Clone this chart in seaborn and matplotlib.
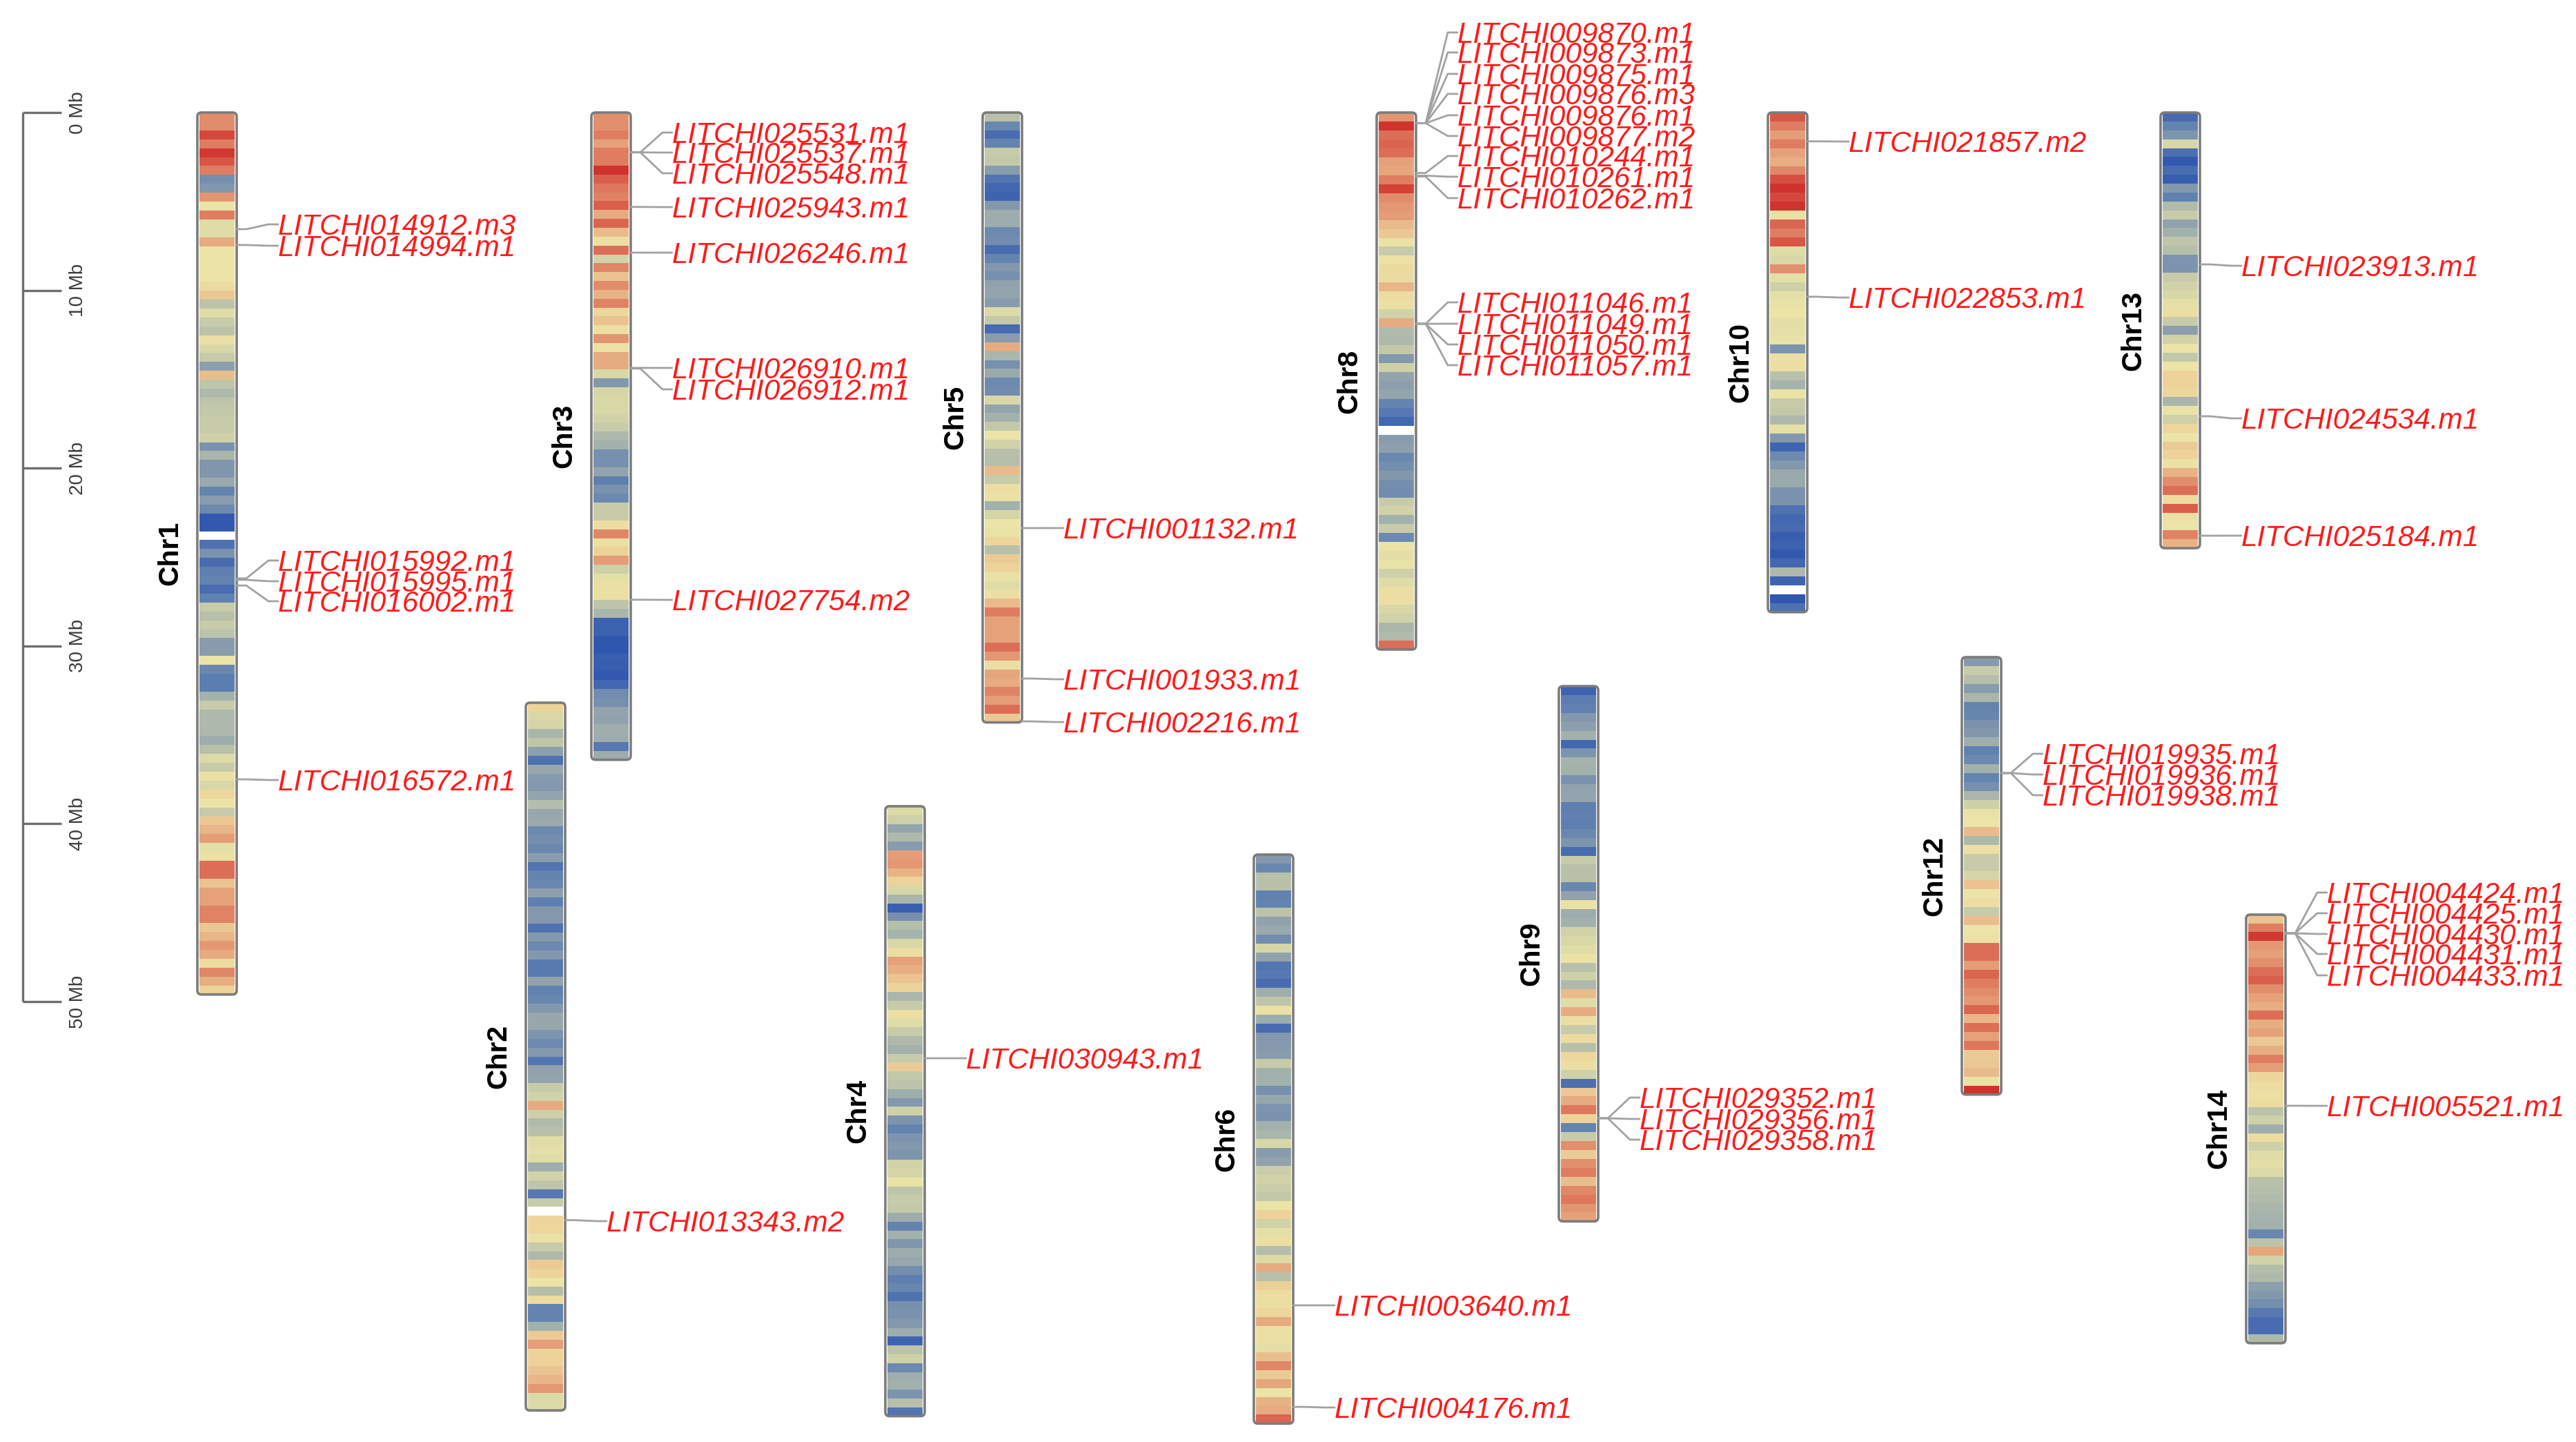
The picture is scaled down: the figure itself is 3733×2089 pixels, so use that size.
import numpy as np
import pandas as pd
import matplotlib
matplotlib.use("Agg")
import matplotlib.pyplot as plt
from matplotlib.colors import LinearSegmentedColormap
from matplotlib.patches import FancyBboxPatch
import seaborn as sns

nan = np.nan

# gene density per 0.5 Mb bin, 0 = sparse (blue), 10 = dense (red), nan = gap
chr1_density = [8.7, 8.7, 9.7, 9, 9.9, 9.5, 9, 2.5, 3, 8.5, 6, 9, 5.7, 5.7, 8, 6, 6, 6, 6, 6.6, 7.3, 4.7, 5.7, 5, 4.7,
                6.3, 5.5, 5, 3.3, 7.5, 4.8, 4.3, 4.8, 4.9, 5, 5, 5.2, 2.7, 4.2, 2.9, 2.9, 3.7, 2, 3.2, 2.3, 0.3, 0.3,
                nan, 1.2, 2.7, 1, 1.8, 2, 1, 1.9, 5, 4.6, 5, 4.7, 3.2, 3.2, 6, 2.2, 1.7, 1.7, 4, 5, 4.3, 4.3, 4.3, 3.8,
                4.6, 5.6, 5, 6.3, 5.5, 6.8, 6, 5, 7.3, 7.7, 8.3, 5.8, 6.2, 9.2, 9.2, 7.4, 8.2, 8.2, 8.9, 8.9, 7.3, 7.7,
                8.4, 8, 6.5, 8.8, 7.9, 7]
chr2_density = [7, 5.5, 5.4, 4.2, 4.8, 3.3, 1.2, 3.6, 3.1, 3, 3.5, 4.5, 3.6, 3.7, 2.3, 2.5, 2.2, 3.2, 1.3, 2, 2.2, 3.3,
                1.8, 3, 3, 1.2, 3, 2.3, 3, 1.6, 1.6, 3.4, 1.9, 2.1, 3, 3.6, 3.6, 2.8, 2.3, 3, 1.3, 3.4, 3.5, 5, 5.3, 8,
                5.2, 4.4, 4.6, 5.7, 5.8, 5.7, 3.9, 5.3, 4.8, 1.5, 5, nan, 6.9, 6.8, 6.2, 5, 4.3, 7.2, 7, 6, 4.5, 6.5, 2,
                2, 4, 7.2, 8.3, 7, 7, 7.4, 7.7, 8.4, 5.6, 5.6]
chr3_density = [8.6, 8.6, 9, 8.2, 9, 9, 10, 9.4, 9.1, 8.9, 9.4, 8, 9.3, 7.6, 6.3, 9.2, 5.3, 8.8, 7.4, 8.7, 7.8, 8.9, 6.8,
                7.4, 6.3, 8.5, 6.2, 8, 8, 5.5, 3, 5.4, 5.5, 5.5, 5.3, 5, 4.3, 4, 2.6, 2.6, 3.5, 1.8, 2.7, 2.3, 5, 5, 6.4,
                8.8, 6.3, 7, 8.3, 5.2, 5.8, 6.3, 6.3, 4.8, 4.2, 0.6, 0.6, 0.2, 0.2, 0.5, 0.4, 0.3, 0.8, 2.4, 2.6, 3.5,
                3.4, 3.9, 3.8, 1.5, 3.8]
chr4_density = [5.6, 5.2, 3.5, 4.3, 3.2, 8.3, 8.4, 7.8, 7, 5.5, 4.2, 0.5, 2.6, 4.5, 4.1, 5.5, 6.4, 8.2, 7.9, 7.4, 7, 4.2,
                5, 6.3, 5.7, 5, 4.3, 4, 5, 7.2, 4.9, 4.7, 3.8, 3, 5.2, 2.8, 2, 2.8, 3, 2.8, 5.3, 5.4, 5.9, 4.8, 5, 4.9,
                3.8, 2, 4, 2.9, 3.8, 3.6, 2.5, 1.8, 2.1, 1.2, 2.6, 2.7, 3, 3.8, 0.7, 4.7, 5.2, 2.3, 3.9, 4, 2.8, 4.6, 1.3]
chr5_density = [4.6, 2.2, 1, 2, 5, 4.9, 3.2, 1.3, 0.8, 0.7, 3, 3.8, 3.8, 2.3, 2.4, 1, 2, 3, 2.6, 3.4, 3.5, 3.2, 5.6, 4.9,
                0.9, 3.2, 8, 4.2, 2.6, 3.7, 2.3, 2.4, 5.5, 3.5, 4, 4.9, 6, 5.3, 4.6, 4.5, 7.6, 5, 6.4, 6.2, 4, 5.4, 6, 5.9,
                6.9, 4.6, 7.2, 7, 5.9, 5.7, 6.3, 7.6, 9, 8.2, 8.2, 8.2, 9.2, 8.4, 6.4, 8.1, 8, 8.9, 8.3, 9.2, 7.3]
chr6_density = [3, 2.2, 4.6, 4.6, 1.9, 2, 4.7, 3.4, 3.7, 2.4, 5.4, 3.4, 1.4, 1.5, 1, 3.9, 4.8, 6.2, 3.8, 1, 3, 3.1, 3.2, 5,
                4, 4, 2.6, 3.6, 2.8, 2.7, 4, 4.2, 5.5, 3.2, 3.4, 5.1, 5.3, 5.1, 4.9, 6, 7, 5.3, 5.8, 6.3, 4.5, 5.6, 8, 4.6,
                7.1, 6.5, 6.4, 6.9, 8, 6.3, 6.3, 5.8, 7.5, 8.8, 7.2, 8.1, 6, 7.8, 8, 9.3]
chr8_density = [8.5, 10, 9.2, 9.3, 9.2, 8.2, 8.1, 9, 9.8, 8.7, 8.4, 8.3, 7.6, 7.3, 6.2, 5, 6.2, 6.7, 6.6, 7.7, 6.5, 6.3, 5.3,
                8, 4.4, 4.3, 4.9, 3, 5.2, 3.5, 3.3, 3.5, 2, 1.5, 0.8, nan, 3.2, 3.3, 2.2, 2.5, 3, 2.5, 2.4, 5, 5.3, 4, 5,
                2.3, 6, 5.8, 5.9, 5.2, 5.7, 6.4, 6.4, 5.5, 5.3, 4.2, 4.4, 9.2]
chr9_density = [0.6, 1.7, 1.9, 3, 3.3, 4, 0.8, 2.8, 4.1, 4, 2.7, 3.4, 3.5, 1.8, 1.9, 1.8, 2.2, 2.8, 1, 5, 4.6, 4.6, 2.2, 3.4,
                6.2, 3.8, 4, 5.3, 5.5, 5.7, 6.1, 4.6, 5.2, 4.3, 7.6, 5.7, 8, 6.4, 5, 6.6, 4.6, 6.8, 6.4, 5.2, 1.1, 7.3, 8,
                9.1, 7, 2, 5, 8.6, 7.2, 8.6, 9, 7.5, 8.8, 9.1, 8.5, 8.2]
chr10_density = [9.5, 9, 8.3, 9, 8.2, 7.9, 8.8, 9.6, 10, 9.7, 10, 6.3, 9.3, 9, 9.5, 5.7, 5.5, 8.6, 5.8, 5.2, 5.8, 5.9, 6, 5.8,
                 5.8, 5.9, 2.8, 6.3, 6.4, 4.6, 4.1, 6.1, 5, 4.9, 4.3, 5.8, 3, 0.7, 2.3, 3, 3.7, 3.7, 2.7, 2.7, 1.2, 0.8, 0.9,
                 0.4, 0.6, 0.3, 0.8, 4.3, 0.7, nan, 0.2, 1.2]
chr12_density = [3.1, 5, 4.5, 3.2, 4.2, 2, 2.1, 2.7, 3, 3.9, 1.9, 2.3, 4, 2, 2.6, 4.2, 5.2, 5.9, 6, 7.6, 4.3, 6.3, 5, 5, 5.4,
                 7.4, 6, 6.4, 5, 7.5, 6, 6.2, 9.2, 9.2, 8.3, 9.3, 9, 8.7, 8.4, 9.3, 7.7, 9.2, 8.2, 9.1, 7.2, 7.3, 7.6, 6.2, 10]
chr13_density = [0.9, 2, 2.8, 5.5, 1.1, 0.3, 1, 0.4, 3, 1.9, 4.4, 5, 3.4, 4, 4.8, 4.5, 2.8, 2.8, 5, 5.3, 5.5, 5.8, 6.4, 5, 3.3,
                 5.3, 6, 4.9, 6, 7, 7, 6.9, 4.2, 5.9, 5.2, 6.9, 6, 7.2, 7, 6.2, 7.8, 8.7, 9.2, 6.5, 9.4, 6.3, 6, 8.9, 7.8]
chr14_density = [7.4, 9, 9.9, 8.4, 8.2, 8.6, 9.2, 9.4, 8.7, 8.2, 7.9, 9.2, 7.9, 8.2, 7.3, 7.9, 9, 8.3, 6.9, 6.5, 6.3, 6.5, 4.7,
                 5.2, 3.9, 6.5, 5.2, 5.7, 5.8, 5.6, 4.6, 4.5, 4.4, 4.2, 4.1, 4, 2.2, 4.7, 8.1, 5.3, 4.5, 4.3, 3.3, 3, 2.5, 1.5,
                 1, 1, 4.3]

# chromosome lengths (Mb)
chr_length_mb = {"Chr1": 49.6, "Chr2": 39.8, "Chr3": 36.4, "Chr4": 34.3, "Chr5": 34.3, "Chr6": 32.0,
                 "Chr8": 30.2, "Chr9": 30.1, "Chr10": 28.1, "Chr12": 24.6, "Chr13": 24.5, "Chr14": 24.1}

# genes and where they sit on the chromosome (Mb)
chr1_genes = ["LITCHI014912.m3", "LITCHI014994.m1", "LITCHI015992.m1", "LITCHI015995.m1", "LITCHI016002.m1", "LITCHI016572.m1"]
chr1_gene_mb = [6.56, 7.45, 26.2, 26.28, 26.6, 37.5]
chr2_genes = ["LITCHI013343.m2"]
chr2_gene_mb = [29.1]
chr3_genes = ["LITCHI025531.m1", "LITCHI025537.m1", "LITCHI025548.m1", "LITCHI025943.m1", "LITCHI026246.m1",
              "LITCHI026910.m1", "LITCHI026912.m1", "LITCHI027754.m2"]
chr3_gene_mb = [2.24, 2.24, 2.24, 5.31, 7.88, 14.36, 14.4, 27.4]
chr4_genes = ["LITCHI030943.m1"]
chr4_gene_mb = [14.17]
chr5_genes = ["LITCHI001132.m1", "LITCHI001933.m1", "LITCHI002216.m1"]
chr5_gene_mb = [23.37, 31.83, 34.24]
chr6_genes = ["LITCHI003640.m1", "LITCHI004176.m1"]
chr6_gene_mb = [25.35, 31.06]
chr8_genes = ["LITCHI009870.m1", "LITCHI009873.m1", "LITCHI009875.m1", "LITCHI009876.m3", "LITCHI009876.m1", "LITCHI009877.m2",
              "LITCHI010244.m1", "LITCHI010261.m1", "LITCHI010262.m1", "LITCHI011046.m1", "LITCHI011049.m1",
              "LITCHI011050.m1", "LITCHI011057.m1"]
chr8_gene_mb = [0.6, 0.6, 0.6, 0.6, 0.6, 0.6, 3.4, 3.55, 3.6, 11.88, 11.88, 11.88, 11.88]
chr9_genes = ["LITCHI029352.m1", "LITCHI029356.m1", "LITCHI029358.m1"]
chr9_gene_mb = [24.3, 24.3, 24.3]
chr10_genes = ["LITCHI021857.m2", "LITCHI022853.m1"]
chr10_gene_mb = [1.62, 10.36]
chr12_genes = ["LITCHI019935.m1", "LITCHI019936.m1", "LITCHI019938.m1"]
chr12_gene_mb = [6.52, 6.52, 6.52]
chr13_genes = ["LITCHI023913.m1", "LITCHI024534.m1", "LITCHI025184.m1"]
chr13_gene_mb = [8.54, 17.08, 23.8]
chr14_genes = ["LITCHI004424.m1", "LITCHI004425.m1", "LITCHI004430.m1", "LITCHI004431.m1", "LITCHI004433.m1", "LITCHI005521.m1"]
chr14_gene_mb = [1.05, 1.05, 1.05, 1.05, 1.05, 10.75]

scale_ticks = [0, 10, 20, 30, 40, 50]

chromosomes = [
    ("Chr1", chr1_density, chr1_genes, chr1_gene_mb),
    ("Chr2", chr2_density, chr2_genes, chr2_gene_mb),
    ("Chr3", chr3_density, chr3_genes, chr3_gene_mb),
    ("Chr4", chr4_density, chr4_genes, chr4_gene_mb),
    ("Chr5", chr5_density, chr5_genes, chr5_gene_mb),
    ("Chr6", chr6_density, chr6_genes, chr6_gene_mb),
    ("Chr8", chr8_density, chr8_genes, chr8_gene_mb),
    ("Chr9", chr9_density, chr9_genes, chr9_gene_mb),
    ("Chr10", chr10_density, chr10_genes, chr10_gene_mb),
    ("Chr12", chr12_density, chr12_genes, chr12_gene_mb),
    ("Chr13", chr13_density, chr13_genes, chr13_gene_mb),
    ("Chr14", chr14_density, chr14_genes, chr14_gene_mb),
]

# layout, in pixels of the 3733x2089 picture
W, H = 3733, 2089
px_per_mb = 25.76
chr_width = 57
chr_left = {"Chr1": 286, "Chr2": 762, "Chr3": 857, "Chr4": 1283, "Chr5": 1424, "Chr6": 1817,
            "Chr8": 1995, "Chr9": 2259, "Chr10": 2562, "Chr12": 2843, "Chr13": 3131, "Chr14": 3255}
chr_top = {"Chr1": 163, "Chr2": 1018, "Chr3": 163, "Chr4": 1168, "Chr5": 163, "Chr6": 1238,
           "Chr8": 163, "Chr9": 994, "Chr10": 163, "Chr12": 952, "Chr13": 163, "Chr14": 1325}
label_y = {
    "Chr1": [325, 356, 812, 842, 871, 1130],
    "Chr2": [1769],
    "Chr3": [192, 221, 251, 300, 366, 533, 564, 869],
    "Chr4": [1533],
    "Chr5": [765, 984, 1046],
    "Chr6": [1891, 2039],
    "Chr8": [47, 76, 107, 136, 167, 197, 226, 256, 287, 438, 469, 499, 529],
    "Chr9": [1590, 1621, 1651],
    "Chr10": [205, 431],
    "Chr12": [1092, 1122, 1152],
    "Chr13": [385, 606, 776],
    "Chr14": [1293, 1323, 1353, 1382, 1413, 1602],
}

sns.set_theme(style="white")
plt.rcParams["font.family"] = ["Liberation Sans", "DejaVu Sans"]

density_cmap = LinearSegmentedColormap.from_list(
    "density",
    ["#2a52ae", "#4a6db0", "#6484b0", "#8498ad", "#a3b1ac", "#c6caa9",
     "#ebe4a6", "#edd49b", "#e6ab80", "#df7f62", "#d0322d"],
)

fig = plt.figure(figsize=(W / 100, H / 100), dpi=100, facecolor="white")

overlay = fig.add_axes([0, 0, 1, 1], zorder=5)
overlay.set_xlim(0, W)
overlay.set_ylim(H, 0)
overlay.axis("off")
overlay.patch.set_alpha(0)

# Mb scale on the left
scale_top = chr_top["Chr1"]
scale_y = [scale_top + t * px_per_mb for t in scale_ticks]
overlay.plot([33, 33], [scale_y[0], scale_y[-1]], color="#6e6e6e", lw=2.4, solid_capstyle="butt")
for t, y in zip(scale_ticks, scale_y):
    overlay.plot([33, 89], [y, y], color="#6e6e6e", lw=2.4, solid_capstyle="butt")
    overlay.text(113, y, f"{t} Mb", rotation=90, ha="center", va="center", fontsize=20, color="#3c3c3c")

for name, density, genes, gene_mb in chromosomes:
    left, top = chr_left[name], chr_top[name]
    height = chr_length_mb[name] * px_per_mb

    ax = fig.add_axes([(left + 3) / W, 1 - (top + height) / H, (chr_width - 6) / W, height / H], zorder=2)
    sns.heatmap(pd.DataFrame({name: density}), ax=ax, cmap=density_cmap, vmin=0, vmax=10,
                cbar=False, xticklabels=False, yticklabels=False)
    ax.set_xlabel("")
    ax.set_ylabel("")

    overlay.add_patch(FancyBboxPatch((left, top), chr_width, height,
                                     boxstyle="round,pad=0,rounding_size=6",
                                     fc="none", ec="#7c7c7c", lw=2.6))
    overlay.text(left - 40, top + height / 2, name, rotation=90, ha="center", va="center",
                 fontsize=29.5, fontweight="bold", color="black")

    # connectors and gene names
    edge = left + chr_width
    for gene, mb, ly in zip(genes, gene_mb, label_y[name]):
        y = top + mb * px_per_mb
        overlay.plot([edge, edge + 14, edge + 46, edge + 60], [y, y, ly, ly],
                     color="#a2a2a2", lw=2, solid_joinstyle="round")
        overlay.text(edge + 60, ly + 4, gene, ha="left", va="center", fontsize=30.4,
                     style="italic", color="#ff1a1a")

fig.savefig("out.png", dpi=100, facecolor="white")
